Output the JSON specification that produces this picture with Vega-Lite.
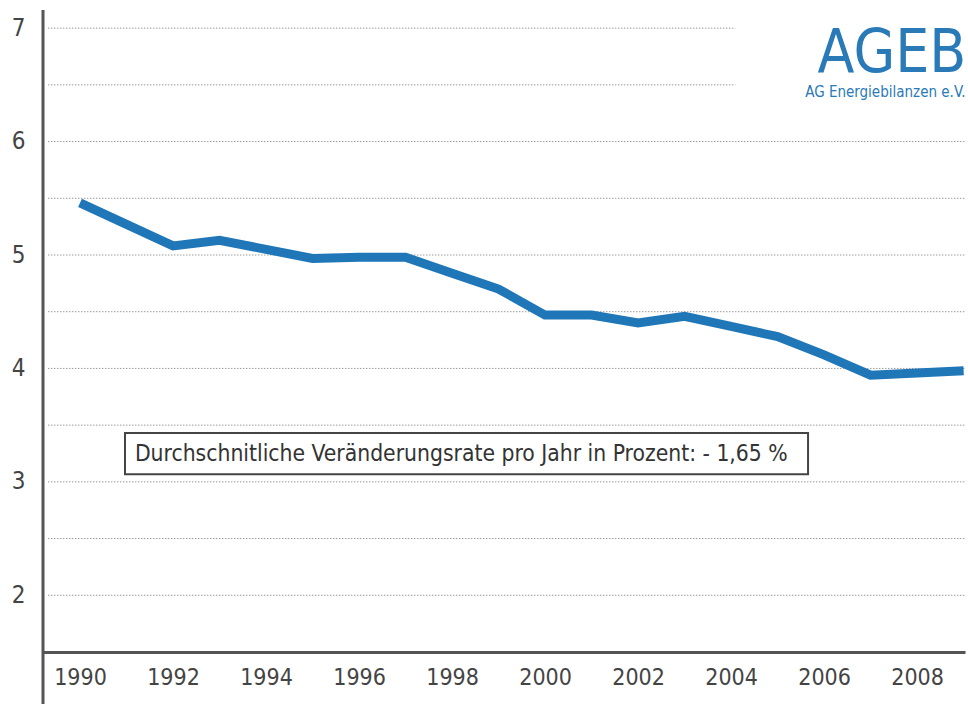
{
  "$schema": "https://vega.github.io/schema/vega-lite/v6.json",
  "width": 922,
  "height": 642,
  "autosize": {"type": "none"},
  "padding": {"left": 43, "top": 10, "right": 3, "bottom": 52},
  "background": "white",
  "config": {"view": {"stroke": null}, "font": "Liberation Sans Narrow, DejaVu Sans Condensed, sans-serif"},
  "data": {"values": [{}]},
  "datasets": {
    "series": [
      {"year": 1990, "value": 5.46},
      {"year": 1991, "value": 5.27},
      {"year": 1992, "value": 5.08},
      {"year": 1993, "value": 5.13},
      {"year": 1994, "value": 5.05},
      {"year": 1995, "value": 4.97},
      {"year": 1996, "value": 4.98},
      {"year": 1997, "value": 4.98},
      {"year": 1998, "value": 4.84},
      {"year": 1999, "value": 4.70},
      {"year": 2000, "value": 4.47},
      {"year": 2001, "value": 4.47},
      {"year": 2002, "value": 4.40},
      {"year": 2003, "value": 4.46},
      {"year": 2004, "value": 4.37},
      {"year": 2005, "value": 4.28},
      {"year": 2006, "value": 4.12},
      {"year": 2007, "value": 3.94},
      {"year": 2008, "value": 3.96},
      {"year": 2009, "value": 3.98}
    ],
    "gridFull": [{"v": 2}, {"v": 2.5}, {"v": 3}, {"v": 3.5}, {"v": 4}, {"v": 4.5}, {"v": 5}, {"v": 5.5}, {"v": 6}],
    "gridShort": [{"v": 6.5}, {"v": 7}]
  },
  "layer": [
    {
      "data": {"name": "gridFull"},
      "mark": {"type": "rule", "color": "#9a9a9a", "strokeWidth": 1, "strokeDash": [1.5, 1.5]},
      "encoding": {
        "x": {"datum": 1989.31, "type": "quantitative"},
        "x2": {"datum": 2009.03},
        "y": {"field": "v", "type": "quantitative"}
      }
    },
    {
      "data": {"name": "gridShort"},
      "mark": {"type": "rule", "color": "#9a9a9a", "strokeWidth": 1, "strokeDash": [1.5, 1.5]},
      "encoding": {
        "x": {"datum": 1989.31, "type": "quantitative"},
        "x2": {"datum": 2004.09},
        "y": {"field": "v", "type": "quantitative"}
      }
    },
    {
      "data": {"name": "series"},
      "mark": {"type": "line", "color": "#1f77b8", "strokeWidth": 9, "strokeCap": "butt", "strokeJoin": "miter", "clip": false},
      "encoding": {
        "x": {
          "field": "year", "type": "quantitative",
          "scale": {"domain": [1989.204, 2009.03], "nice": false, "zero": false},
          "axis": {
            "title": null, "values": [1990, 1992, 1994, 1996, 1998, 2000, 2002, 2004, 2006, 2008],
            "format": "d", "ticks": false, "tickSize": 0, "grid": false,
            "labelPadding": 14, "labelFontSize": 23, "labelColor": "#444",
            "domainColor": "#555", "domainWidth": 3, "labelFlush": false
          }
        },
        "y": {
          "field": "value", "type": "quantitative",
          "scale": {"domain": [1.5, 7.16], "nice": false, "zero": false},
          "axis": {
            "title": null, "values": [2, 3, 4, 5, 6, 7], "format": "d", "ticks": false, "tickSize": 0,
            "grid": false, "domain": false, "labelPadding": 18, "labelFontSize": 24,
            "labelColor": "#444", "labelBaseline": "middle"
          }
        }
      }
    },
    {
      "mark": {"type": "rect", "fill": "white", "stroke": "#444", "strokeWidth": 2},
      "encoding": {
        "x": {"datum": 1990.967, "type": "quantitative"},
        "x2": {"datum": 2005.655},
        "y": {"datum": 3.43, "type": "quantitative"},
        "y2": {"datum": 3.068}
      }
    },
    {
      "mark": {"type": "text", "text": "Durchschnitliche Veränderungsrate pro Jahr in Prozent: - 1,65 %", "align": "left", "baseline": "middle", "fontSize": 22.7, "color": "#333"},
      "encoding": {
        "x": {"datum": 1991.18, "type": "quantitative"},
        "y": {"datum": 3.25, "type": "quantitative"}
      }
    },
    {
      "mark": {"type": "text", "text": "AGEB", "align": "right", "baseline": "alphabetic", "fontSize": 60, "color": "#2a7ab8", "clip": false},
      "encoding": {
        "x": {"datum": 2009.06, "type": "quantitative"},
        "y": {"datum": 6.613, "type": "quantitative"}
      }
    },
    {
      "mark": {"type": "text", "text": "AG Energiebilanzen e.V.", "align": "right", "baseline": "alphabetic", "fontSize": 15, "color": "#2a7ab8", "clip": false},
      "encoding": {
        "x": {"datum": 2009.04, "type": "quantitative"},
        "y": {"datum": 6.39, "type": "quantitative"}
      }
    },
    {
      "mark": {"type": "rule", "color": "#555", "strokeWidth": 3, "clip": false},
      "encoding": {
        "x": {"datum": 1989.204, "type": "quantitative"},
        "y": {"datum": 7.16, "type": "quantitative"},
        "y2": {"datum": 1.0}
      }
    }
  ]
}
